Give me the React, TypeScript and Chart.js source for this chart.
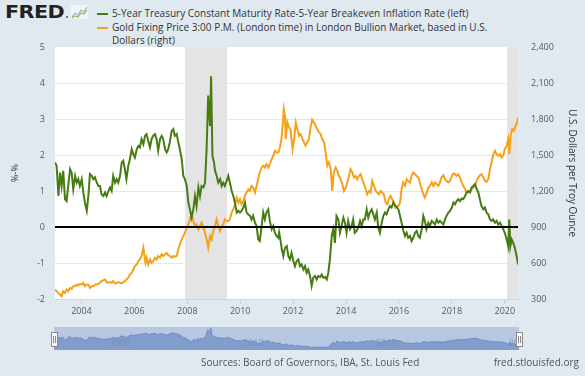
import React, { useEffect, useRef } from "react";
import { Chart, registerables } from "chart.js";

Chart.register(...registerables);

// ---------- DATA ----------
const realRateYears = [
  2003.0, 2003.06, 2003.13, 2003.19, 2003.25, 2003.31, 2003.38, 2003.44, 2003.5, 2003.57, 2003.63, 2003.69, 2003.76, 2003.82, 2003.88, 2003.94,
  2004.01, 2004.07, 2004.13, 2004.2, 2004.26, 2004.32, 2004.39, 2004.45, 2004.51, 2004.58, 2004.64, 2004.7, 2004.76, 2004.83, 2004.89, 2004.95,
  2005.02, 2005.08, 2005.14, 2005.2, 2005.27, 2005.33, 2005.39, 2005.46, 2005.52, 2005.58, 2005.64, 2005.7, 2005.77, 2005.83, 2005.9, 2005.96,
  2006.02, 2006.09, 2006.15, 2006.21, 2006.27, 2006.34, 2006.4, 2006.46, 2006.52, 2006.59, 2006.65, 2006.71, 2006.78, 2006.84, 2006.9, 2006.97,
  2007.03, 2007.09, 2007.16, 2007.22, 2007.28, 2007.35, 2007.41, 2007.47, 2007.53, 2007.6, 2007.66, 2007.72, 2007.79, 2007.85, 2007.91, 2007.98,
  2008.04, 2008.1, 2008.16, 2008.23, 2008.29, 2008.35, 2008.42, 2008.48, 2008.54, 2008.61, 2008.67, 2008.73, 2008.79, 2008.86, 2008.9, 2008.95,
  2009.01, 2009.05, 2009.11, 2009.17, 2009.24, 2009.3, 2009.36, 2009.42, 2009.49, 2009.55, 2009.61, 2009.68, 2009.74, 2009.8, 2009.87, 2009.93, 2009.99,
  2010.05, 2010.12, 2010.18, 2010.24, 2010.31, 2010.37, 2010.43, 2010.49, 2010.56, 2010.62, 2010.68, 2010.74, 2010.81, 2010.87, 2010.93, 2010.99,
  2011.06, 2011.12, 2011.19, 2011.25, 2011.31, 2011.37, 2011.44, 2011.47, 2011.53, 2011.57, 2011.63, 2011.69, 2011.76, 2011.82, 2011.88, 2011.94,
  2012.01, 2012.07, 2012.13, 2012.2, 2012.26, 2012.32, 2012.39, 2012.45, 2012.51, 2012.57, 2012.64, 2012.7, 2012.76, 2012.83, 2012.89, 2012.95,
  2013.02, 2013.08, 2013.14, 2013.21, 2013.27, 2013.33, 2013.39, 2013.46, 2013.52, 2013.58, 2013.64, 2013.71, 2013.77, 2013.83, 2013.9, 2013.96,
  2014.02, 2014.08, 2014.15, 2014.21, 2014.27, 2014.33, 2014.4, 2014.46, 2014.53, 2014.59, 2014.65, 2014.71, 2014.78, 2014.84, 2014.9, 2014.97,
  2015.03, 2015.09, 2015.16, 2015.22, 2015.28, 2015.35, 2015.41, 2015.47, 2015.53, 2015.6, 2015.66, 2015.72, 2015.79, 2015.85, 2015.91, 2015.98,
  2016.04, 2016.1, 2016.17, 2016.23, 2016.29, 2016.35, 2016.42, 2016.48, 2016.54, 2016.61, 2016.67, 2016.73, 2016.79, 2016.86, 2016.92, 2016.98,
  2017.04, 2017.11, 2017.17, 2017.24, 2017.3, 2017.36, 2017.43, 2017.49, 2017.55, 2017.61, 2017.68, 2017.74, 2017.8, 2017.87, 2017.93,
  2018.0, 2018.06, 2018.12, 2018.18, 2018.24, 2018.31, 2018.37, 2018.43, 2018.5, 2018.56, 2018.62, 2018.69, 2018.75, 2018.81, 2018.87, 2018.94,
  2019.0, 2019.06, 2019.12, 2019.19, 2019.25, 2019.31, 2019.38, 2019.44, 2019.5, 2019.56, 2019.63, 2019.69, 2019.75, 2019.82, 2019.88, 2019.94,
  2020.0, 2020.07, 2020.13, 2020.17, 2020.21, 2020.26, 2020.32, 2020.38, 2020.45, 2020.5,
];
const realRateValues = [
  1.79, 1.7, 0.86, 1.51, 1.14, 1.56, 0.77, 0.72, 1.14, 1.61, 1.51, 1.05, 1.42, 1.23, 1.33, 1.14,
  1.33, 0.96, 0.68, 0.45, 0.86, 1.47, 1.42, 1.33, 1.38, 1.23, 1.14, 1.14, 0.91, 0.86, 0.96, 0.86,
  1.0, 1.1, 1.0, 1.42, 1.23, 1.33, 1.23, 1.42, 1.79, 1.84, 1.61, 1.33, 1.7, 1.88, 2.16, 2.02,
  1.93, 2.16, 2.25, 2.21, 2.44, 2.3, 2.53, 2.58, 2.4, 2.21, 2.44, 2.53, 2.58, 2.44, 2.12, 2.44,
  2.53, 2.44, 2.16, 2.07, 2.16, 2.4, 2.67, 2.72, 2.53, 2.58, 2.35, 2.16, 1.88, 1.42, 1.33, 1.14,
  0.68, 0.49, 0.26, 0.49, 0.86, 0.58, 1.1, 0.86, 1.14, 1.1, 1.23, 2.16, 3.65, 2.81, 4.19, 1.98,
  1.79, 1.56, 1.42, 1.23, 1.33, 1.14, 1.23, 1.14, 1.28, 1.42, 1.23, 1.0, 0.86, 0.68, 0.4, 0.45, 0.4,
  0.45, 0.54, 0.68, 0.4, 0.35, 0.31, 0.21, 0.31, 0.12, 0.03, -0.34, -0.39, 0.03, 0.4, 0.21, 0.4,
  0.49, 0.17, -0.06, 0.03, -0.16, -0.25, -0.3, -0.15, -0.4, -0.62, -0.81, -0.58, -0.53, -0.81, -0.9, -0.72,
  -0.95, -1.09, -0.95, -0.9, -1.09, -1.04, -1.18, -1.09, -1.27, -1.18, -1.36, -1.64, -1.41, -1.36, -1.46, -1.36,
  -1.39, -1.32, -1.41, -1.39, -1.46, -1.27, -0.9, -0.25, -0.06, -0.44, 0.31, 0.21, -0.16, 0.03, 0.26, 0.12,
  -0.16, 0.17, -0.06, 0.03, 0.21, -0.16, -0.11, -0.02, 0.17, 0.03, 0.21, 0.21, 0.49, 0.26, 0.4, 0.49,
  0.35, 0.21, 0.4, -0.02, -0.16, 0.12, 0.31, 0.4, 0.35, 0.49, 0.58, 0.54, 0.68, 0.6, 0.55, 0.49,
  0.31, 0.12, -0.11, -0.25, -0.16, -0.3, -0.25, -0.39, -0.3, -0.16, -0.11, -0.25, -0.3, -0.06, 0.31, 0.17,
  -0.06, 0.12, 0.03, 0.17, 0.12, 0.07, 0.21, 0.12, 0.17, 0.12, 0.07, 0.21, 0.31, 0.4, 0.45,
  0.54, 0.68, 0.63, 0.72, 0.77, 0.72, 0.79, 0.77, 0.86, 0.96, 1.0, 0.96, 1.1, 1.14, 1.19, 1.05,
  0.96, 0.77, 0.58, 0.49, 0.54, 0.4, 0.35, 0.21, 0.17, 0.21, 0.12, 0.17, 0.07, 0.12, 0.03, -0.06,
  -0.16, -0.34, -0.53, 0.21, -0.53, -0.34, -0.44, -0.58, -0.81, -1.04,
];

const goldYears = [
  2003.0, 2003.06, 2003.13, 2003.19, 2003.25, 2003.31, 2003.38, 2003.44, 2003.5, 2003.57, 2003.63, 2003.69, 2003.76, 2003.82, 2003.88, 2003.94,
  2004.01, 2004.07, 2004.13, 2004.2, 2004.26, 2004.32, 2004.39, 2004.45, 2004.51, 2004.58, 2004.64, 2004.7, 2004.76, 2004.83, 2004.89, 2004.95,
  2005.02, 2005.08, 2005.14, 2005.2, 2005.27, 2005.33, 2005.39, 2005.46, 2005.52, 2005.58, 2005.64, 2005.7, 2005.77, 2005.83, 2005.9, 2005.96,
  2006.02, 2006.09, 2006.15, 2006.21, 2006.27, 2006.34, 2006.38, 2006.42, 2006.46, 2006.52, 2006.59, 2006.65, 2006.72, 2006.78, 2006.84, 2006.9, 2006.97,
  2007.03, 2007.09, 2007.16, 2007.22, 2007.28, 2007.35, 2007.41, 2007.47, 2007.53, 2007.6, 2007.66, 2007.72, 2007.79, 2007.85, 2007.91, 2007.98,
  2008.04, 2008.1, 2008.16, 2008.23, 2008.29, 2008.35, 2008.42, 2008.48, 2008.54, 2008.61, 2008.67, 2008.73, 2008.79, 2008.86, 2008.92, 2008.98,
  2009.05, 2009.11, 2009.17, 2009.24, 2009.3, 2009.36, 2009.42, 2009.49, 2009.55, 2009.61, 2009.68, 2009.74, 2009.8, 2009.87, 2009.93, 2009.99,
  2010.05, 2010.12, 2010.18, 2010.24, 2010.31, 2010.37, 2010.43, 2010.49, 2010.56, 2010.62, 2010.68, 2010.74, 2010.81, 2010.87, 2010.93, 2010.99,
  2011.06, 2011.12, 2011.19, 2011.25, 2011.31, 2011.37, 2011.44, 2011.5, 2011.56, 2011.61, 2011.65, 2011.69, 2011.72, 2011.78, 2011.84, 2011.9, 2011.98,
  2012.04, 2012.1, 2012.16, 2012.22, 2012.28, 2012.35, 2012.41, 2012.47, 2012.53, 2012.6, 2012.66, 2012.72, 2012.79, 2012.85, 2012.91, 2012.98,
  2013.04, 2013.1, 2013.17, 2013.23, 2013.29, 2013.35, 2013.42, 2013.48, 2013.54, 2013.61, 2013.67, 2013.73, 2013.8, 2013.86, 2013.92, 2013.99,
  2014.05, 2014.11, 2014.17, 2014.24, 2014.3, 2014.36, 2014.42, 2014.49, 2014.55, 2014.61, 2014.68, 2014.74, 2014.8, 2014.87, 2014.93, 2014.99,
  2015.06, 2015.12, 2015.18, 2015.24, 2015.31, 2015.37, 2015.43, 2015.5, 2015.56, 2015.62, 2015.68, 2015.75, 2015.81, 2015.87, 2015.93, 2015.98,
  2016.04, 2016.1, 2016.16, 2016.23, 2016.29, 2016.35, 2016.42, 2016.48, 2016.54, 2016.61, 2016.67, 2016.73, 2016.79, 2016.86, 2016.92, 2016.98,
  2017.05, 2017.11, 2017.17, 2017.24, 2017.3, 2017.36, 2017.43, 2017.49, 2017.55, 2017.61, 2017.68, 2017.74, 2017.8, 2017.87, 2017.93,
  2018.0, 2018.06, 2018.12, 2018.18, 2018.24, 2018.31, 2018.37, 2018.43, 2018.5, 2018.56, 2018.62, 2018.68, 2018.75, 2018.81, 2018.87, 2018.94,
  2019.0, 2019.06, 2019.12, 2019.19, 2019.25, 2019.31, 2019.38, 2019.44, 2019.5, 2019.57, 2019.63, 2019.69, 2019.75, 2019.82, 2019.88, 2019.94,
  2020.0, 2020.07, 2020.13, 2020.17, 2020.22, 2020.28, 2020.35, 2020.41, 2020.47, 2020.5,
];
const goldValues = [
  379, 365, 351, 337, 323, 365, 351, 379, 365, 393, 385, 407, 407, 421, 413, 426,
  421, 435, 407, 421, 421, 393, 407, 407, 421, 421, 426, 435, 449, 457, 463, 441,
  435, 441, 435, 449, 429, 435, 441, 435, 429, 441, 449, 463, 477, 504, 518, 546,
  574, 588, 616, 630, 658, 727, 658, 602, 644, 588, 630, 602, 616, 644, 630, 658, 644,
  672, 658, 672, 685, 665, 658, 644, 658, 652, 658, 713, 755, 797, 825, 853, 894,
  922, 964, 1006, 950, 908, 922, 880, 908, 936, 894, 853, 797, 727, 825, 797, 867,
  908, 964, 908, 867, 908, 922, 964, 950, 950, 964, 1020, 1048, 1089, 1145, 1103, 1131,
  1089, 1117, 1159, 1187, 1215, 1201, 1243, 1229, 1187, 1243, 1298, 1354, 1396, 1410, 1396, 1424,
  1396, 1424, 1466, 1493, 1535, 1521, 1521, 1563, 1633, 1772, 1883, 1828, 1633, 1772, 1730, 1716, 1549,
  1633, 1772, 1716, 1661, 1675, 1633, 1605, 1577, 1605, 1633, 1730, 1794, 1772, 1744, 1716, 1688,
  1675, 1633, 1605, 1521, 1410, 1438, 1382, 1201, 1354, 1396, 1368, 1326, 1298, 1257, 1201, 1229,
  1271, 1326, 1382, 1354, 1312, 1326, 1298, 1326, 1340, 1298, 1257, 1215, 1173, 1201, 1187, 1284,
  1243, 1201, 1187, 1173, 1201, 1187, 1173, 1103, 1089, 1131, 1159, 1131, 1103, 1062, 1075, 1075,
  1103, 1215, 1271, 1243, 1298, 1284, 1271, 1326, 1354, 1340, 1326, 1312, 1271, 1215, 1173, 1145,
  1187, 1229, 1243, 1271, 1243, 1271, 1257, 1243, 1271, 1312, 1332, 1298, 1284, 1271, 1284,
  1326, 1346, 1340, 1326, 1340, 1312, 1271, 1243, 1215, 1187, 1187, 1201, 1215, 1229, 1243, 1284,
  1312, 1332, 1340, 1312, 1284, 1276, 1298, 1382, 1438, 1507, 1535, 1507, 1493, 1507, 1479, 1493,
  1549, 1577, 1633, 1507, 1661, 1716, 1702, 1744, 1772, 1814,
];

const recessionStarts = [2007.917, 2020.083];
const recessionEnds = [2009.5, 2020.5];

const yearTicks = [2004, 2006, 2008, 2010, 2012, 2014, 2016, 2018, 2020];
const leftTicks = [-2, -1, 0, 1, 2, 3, 4, 5];
const rightTicks = [300, 600, 900, 1200, 1500, 1800, 2100, 2400];
const navigatorLabels = [2005, 2010, 2015, 2020];
const zeroLineValue = 0;

const xMin = 2003;
const xMax = 2020.5;

const seriesLabels = [
  "5-Year Treasury Constant Maturity Rate-5-Year Breakeven Inflation Rate (left)",
  "Gold Fixing Price 3:00 P.M. (London time) in London Bullion Market, based in U.S.",
  "Dollars (right)",
];
const leftTitle = "%-%";
const rightTitle = "U.S. Dollars per Troy Ounce";
const sourceText = "Sources: Board of Governors, IBA, St. Louis Fed";
const siteText = "fred.stlouisfed.org";

// ---------- STYLE ----------
const GREEN = "#477c12";
const ORANGE = "#f7a11a";
const BG = "#e1e9f0";
const FONT = "'Open Sans', 'DejaVu Sans', sans-serif";
const TICK_COLOR = "#595959";

export default function App() {
  const mainRef = useRef<HTMLCanvasElement | null>(null);
  const navRef = useRef<HTMLCanvasElement | null>(null);

  useEffect(() => {
    if (!mainRef.current || !navRef.current) return;

    const plotPlugin = {
      id: "plotDecor",
      beforeDraw(chart: any) {
        const { ctx, chartArea: a, scales } = chart;
        const x = scales.x;
        ctx.save();
        ctx.fillStyle = "#ffffff";
        ctx.fillRect(a.left, a.top, a.right - a.left, a.bottom - a.top);
        ctx.fillStyle = "#e4e4e4";
        recessionStarts.forEach((s, i) => {
          const x0 = Math.max(a.left, x.getPixelForValue(s));
          const x1 = Math.min(a.right, x.getPixelForValue(recessionEnds[i]));
          ctx.fillRect(x0, a.top, x1 - x0, a.bottom - a.top);
        });
        ctx.restore();
      },
      afterDatasetsDraw(chart: any) {
        const { ctx, chartArea: a, scales } = chart;
        const y = Math.round(scales.y.getPixelForValue(zeroLineValue));
        ctx.save();
        ctx.strokeStyle = "#000000";
        ctx.lineWidth = 2;
        ctx.beginPath();
        ctx.moveTo(a.left, y);
        ctx.lineTo(a.right, y);
        ctx.stroke();
        ctx.restore();
      },
    };

    const main = new Chart(mainRef.current, {
      type: "line",
      data: {
        datasets: [
          {
            label: seriesLabels[0],
            data: realRateYears.map((x, i) => ({ x, y: realRateValues[i] })),
            yAxisID: "y",
            borderColor: GREEN,
            borderWidth: 2,
            pointRadius: 0,
            tension: 0,
          },
          {
            label: seriesLabels[1],
            data: goldYears.map((x, i) => ({ x, y: goldValues[i] })),
            yAxisID: "y1",
            borderColor: ORANGE,
            borderWidth: 2,
            pointRadius: 0,
            tension: 0,
          },
        ],
      },
      options: {
        animation: false,
        responsive: false,
        maintainAspectRatio: false,
        layout: { padding: { top: 47, left: 0, right: 0, bottom: 0 } },
        plugins: { legend: { display: false }, tooltip: { enabled: false } },
        scales: {
          x: {
            type: "linear",
            min: xMin,
            max: xMax,
            afterBuildTicks: (s: any) => {
              s.ticks = yearTicks.map((v) => ({ value: v }));
            },
            afterFit: (s: any) => {
              s.height = 21;
            },
            ticks: {
              callback: (v: any) => String(v),
              font: { family: FONT, size: 9 },
              color: TICK_COLOR,
              maxRotation: 0,
              autoSkip: false,
              padding: 2,
            },
            grid: { drawOnChartArea: false, drawTicks: true, tickLength: 5, color: "#c5d0dc" },
            border: { display: true, color: "#cfd8e2" },
          },
          y: {
            position: "left",
            min: -2,
            max: 5,
            afterBuildTicks: (s: any) => {
              s.ticks = leftTicks.map((v) => ({ value: v }));
            },
            afterFit: (s: any) => {
              s.width = 55;
            },
            ticks: {
              callback: (v: any) => String(v),
              font: { family: FONT, size: 9 },
              color: TICK_COLOR,
              padding: 10,
            },
            grid: {
              drawTicks: false,
              color: (c: any) =>
                c.tick && (c.tick.value === 5 || c.tick.value === -2 || c.tick.value === 0)
                  ? "rgba(0,0,0,0)"
                  : "#e6e6e6",
            },
            border: { display: false },
            title: {
              display: true,
              text: leftTitle,
              font: { family: FONT, size: 9 },
              color: "#333333",
              padding: { top: 10, bottom: 0 },
            },
          },
          y1: {
            position: "right",
            min: 300,
            max: 2400,
            afterBuildTicks: (s: any) => {
              s.ticks = rightTicks.map((v) => ({ value: v }));
            },
            afterFit: (s: any) => {
              s.width = 67;
            },
            ticks: {
              callback: (v: any) => Number(v).toLocaleString("en-US"),
              font: { family: FONT, size: 9 },
              color: TICK_COLOR,
              padding: 13,
            },
            grid: { display: false, drawTicks: false },
            border: { display: false },
            title: {
              display: true,
              text: rightTitle,
              font: { family: FONT, size: 10 },
              color: "#333333",
              padding: { top: 7, bottom: 0 },
            },
          },
        },
      } as any,
      plugins: [plotPlugin],
    });

    const navPlugin = {
      id: "navDecor",
      beforeDraw(chart: any) {
        const { ctx, width, height } = chart;
        ctx.save();
        ctx.fillStyle = "#b8c7e1";
        ctx.fillRect(0, 0, width, height);
        ctx.restore();
      },
      afterDraw(chart: any) {
        const { ctx, scales } = chart;
        ctx.save();
        ctx.font = `9px ${FONT}`;
        ctx.fillStyle = "rgba(120,138,168,0.75)";
        ctx.textAlign = "left";
        ctx.textBaseline = "middle";
        navigatorLabels.forEach((v) => {
          ctx.fillText(String(v), scales.x.getPixelForValue(v) + 3, 16);
        });
        ctx.restore();
      },
    };

    const nav = new Chart(navRef.current, {
      type: "line",
      data: {
        datasets: [
          {
            data: realRateYears.map((x, i) => ({ x, y: realRateValues[i] })),
            borderColor: "#6f8dc2",
            borderWidth: 1,
            backgroundColor: "#809dcb",
            fill: "start",
            pointRadius: 0,
            tension: 0,
          },
        ],
      },
      options: {
        animation: false,
        responsive: false,
        maintainAspectRatio: false,
        layout: { padding: 0 },
        plugins: { legend: { display: false }, tooltip: { enabled: false } },
        scales: {
          x: { type: "linear", min: xMin, max: xMax, display: false },
          y: { min: -2.2, max: 4.4, display: false },
        },
      } as any,
      plugins: [navPlugin],
    });

    return () => {
      main.destroy();
      nav.destroy();
    };
  }, []);

  const handle = (left: number) => (
    <div
      style={{
        position: "absolute",
        left,
        top: 332,
        width: 5,
        height: 13,
        background: "#f8f8f8",
        border: "1px solid #8a8a8a",
        boxSizing: "content-box",
      }}
    >
      <div style={{ position: "absolute", left: 1, top: 3, width: 1, height: 7, background: "#8a8a8a" }} />
      <div style={{ position: "absolute", left: 3, top: 3, width: 1, height: 7, background: "#8a8a8a" }} />
    </div>
  );

  return (
    <div
      style={{
        position: "absolute",
        left: 0,
        top: 0,
        width: 585,
        height: 376,
        background: BG,
        overflow: "hidden",
        fontFamily: FONT,
      }}
    >
      {/* FRED logo */}
      <div
        style={{
          position: "absolute",
          left: 5,
          top: 0,
          fontFamily: "'DejaVu Sans', sans-serif",
          fontWeight: 900,
          fontSize: 18,
          lineHeight: "24px",
          color: "#222",
          transform: "scaleX(1.15)",
          transformOrigin: "left center",
          letterSpacing: "-0.5px",
        }}
      >
        FRED
      </div>
      <div style={{ position: "absolute", left: 66, top: 16, width: 2, height: 2, borderRadius: 1, background: "#555" }} />
      <svg style={{ position: "absolute", left: 71, top: 5 }} width="17" height="14" viewBox="0 0 17 14">
        <rect x="0" y="0" width="17" height="14" fill="#f2f4f6" />
        <polyline points="1,12 4,8 7,10 10,5 13,7 16,2" fill="none" stroke="#9fb3c8" strokeWidth="1.2" />
        <polyline points="1,13 4,11 7,12 10,8 13,9 16,5" fill="none" stroke="#8cbf5a" strokeWidth="1.2" />
      </svg>

      {/* Legend */}
      <div
        style={{
          position: "absolute",
          left: 97,
          top: 7,
          fontSize: 10,
          lineHeight: "13.5px",
          color: "#333333",
          whiteSpace: "nowrap",
        }}
      >
        <div style={{ display: "flex", alignItems: "flex-start" }}>
          <span style={{ display: "inline-block", width: 11, height: 2, background: GREEN, marginTop: 6, marginRight: 4 }} />
          <span>{seriesLabels[0]}</span>
        </div>
        <div style={{ display: "flex", alignItems: "flex-start" }}>
          <span style={{ display: "inline-block", width: 11, height: 2, background: ORANGE, marginTop: 6, marginRight: 4 }} />
          <span>
            {seriesLabels[1]}
            <br />
            {seriesLabels[2]}
          </span>
        </div>
      </div>

      <canvas ref={mainRef} width={585} height={320} style={{ position: "absolute", left: 0, top: 0 }} />

      {/* Navigator */}
      <canvas ref={navRef} width={465} height={23} style={{ position: "absolute", left: 54, top: 327 }} />
      {handle(51)}
      {handle(516)}

      {/* Footer */}
      <div style={{ position: "absolute", left: 201, top: 356, fontSize: 10, lineHeight: "13px", color: "#555555", whiteSpace: "nowrap" }}>
        {sourceText}
      </div>
      <div style={{ position: "absolute", right: 6, top: 356, fontSize: 10, lineHeight: "13px", color: "#555555", whiteSpace: "nowrap" }}>
        {siteText}
      </div>
    </div>
  );
}
